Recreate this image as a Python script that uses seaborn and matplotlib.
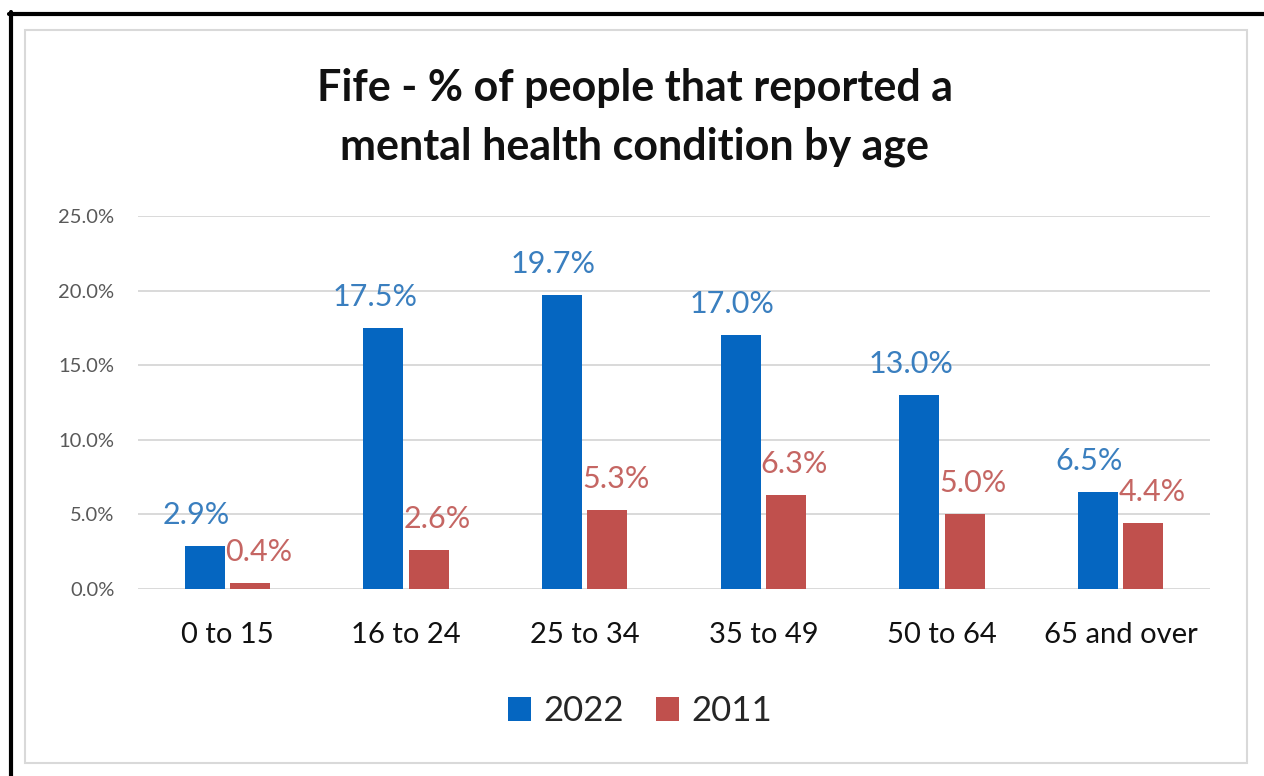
import numpy as np
import pandas as pd
import seaborn as sns
import matplotlib.pyplot as plt
from matplotlib.lines import Line2D
from matplotlib.patches import Rectangle
from matplotlib.ticker import FuncFormatter

# chart data
age_groups = ["0 to 15", "16 to 24", "25 to 34", "35 to 49", "50 to 64", "65 and over"]
years = ["2022", "2011"]
pct_2022 = [2.9, 17.5, 19.7, 17.0, 13.0, 6.5]
pct_2011 = [0.4, 2.6, 5.3, 6.3, 5.0, 4.4]
title_lines = ["Fife - % of people that reported a", "mental health condition by age"]

BAR_COLORS = ["#0566C1", "#C0504D"]
LABEL_COLORS = ["#3A7FBF", "#C56663"]

df = pd.DataFrame({
    "age": age_groups * 2,
    "pct": pct_2022 + pct_2011,
    "year": [years[0]] * len(age_groups) + [years[1]] * len(age_groups),
})

sns.set_theme(style="white")
plt.rcParams["font.family"] = ["Lato", "DejaVu Sans"]

W, H = 1264, 776
fig = plt.figure(figsize=(W / 100, H / 100), dpi=100)
fig.patch.set_facecolor("white")
ax = fig.add_axes([138 / W, 1 - 589 / H, (1210 - 138) / W, (589 - 216) / H])

sns.barplot(data=df, x="age", y="pct", hue="year", palette=BAR_COLORS,
            saturation=1, width=0.51, gap=0.12, ax=ax, linewidth=0,
            legend=True)

ax.set_ylim(0, 25)
ax.set_yticks(np.arange(0, 25.1, 5))
ax.yaxis.set_major_formatter(FuncFormatter(lambda v, p: f"{v:.1f}%"))
ax.grid(axis="y", color="#D9D9D9", linewidth=1.4)
ax.set_axisbelow(True)
for s in ax.spines.values():
    s.set_visible(False)
ax.set_xlabel("")
ax.set_ylabel("")
ax.tick_params(axis="y", labelsize=14.5, labelcolor="#595959", length=0, pad=17)
ax.tick_params(axis="x", labelsize=21, labelcolor="#111111", length=0, pad=24)

# data labels
offsets = [-6, 6]
for i, cont in enumerate(ax.containers):
    for bar in cont:
        h = bar.get_height()
        ax.annotate(f"{h:.1f}%", (bar.get_x() + bar.get_width() / 2, h),
                    xytext=(offsets[i], 16), textcoords="offset points",
                    ha="center", va="baseline", fontsize=22,
                    color=LABEL_COLORS[i])

# legend
handles, labels = ax.get_legend_handles_labels()
ax.legend(handles, labels, loc="center", bbox_to_anchor=(640 / W, 1 - 711 / H),
          bbox_transform=fig.transFigure, ncol=2, frameon=False, fontsize=25,
          handlelength=0.66, handleheight=0.66, handletextpad=0.35,
          columnspacing=0.95)

# title
for line, ypix in zip(title_lines, [88, 147]):
    fig.text(635 / W, 1 - ypix / H, line, ha="center", va="center",
             fontsize=31, fontweight="bold", color="#111111")

# frames
fig.add_artist(Rectangle((25 / W, 1 - 763 / H), (1247 - 25) / W, (763 - 30) / H,
                         transform=fig.transFigure, fill=False,
                         edgecolor="#D9D9D9", linewidth=1.5))
fig.add_artist(Line2D([11 / W, 11 / W], [0, 1 - 12 / H], transform=fig.transFigure,
                      color="black", linewidth=3))
fig.add_artist(Line2D([9 / W, 1], [1 - 14 / H, 1 - 14 / H], transform=fig.transFigure,
                      color="black", linewidth=3))

fig.savefig("out.png", dpi=100)
